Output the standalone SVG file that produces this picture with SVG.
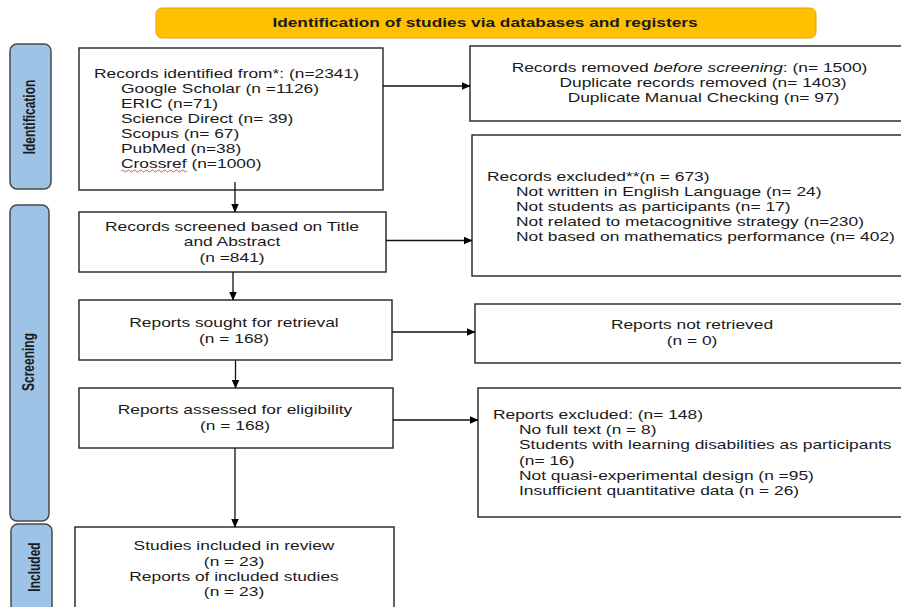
<svg xmlns="http://www.w3.org/2000/svg" width="901" height="607" viewBox="0 0 901 607">
<defs>
<marker id="arr" markerWidth="9" markerHeight="8" refX="8.5" refY="4" orient="auto" markerUnits="userSpaceOnUse">
<path d="M0,0 L9,4 L0,8 Z" fill="#000"/>
</marker>
<style>
.box{fill:#fff;stroke:#222;stroke-width:1.4}
.side{fill:#9DC3E6;stroke:#4a4a4a;stroke-width:1.5}
.t{font-family:"Liberation Sans",Arial,sans-serif;font-size:12.5px;fill:#1a1a1a}
.c{text-anchor:middle}
.b{font-weight:bold}
.ln{stroke:#111;stroke-width:1.3;fill:none}
</style>
</defs>
<rect width="901" height="607" fill="#fff"/>
<g id="banner">
<rect x="156" y="8" width="660" height="30" rx="6" fill="#FFC000" stroke="#dba500" stroke-width="1"/>
<text class="t c b" transform="translate(485,26.5) scale(1.33,1)" style="font-size:13px">Identification of studies via databases and registers</text>
</g>
<g id="side-identification">
<rect class="side" x="10" y="44" width="41" height="145" rx="7"/>
<text class="t c b" transform="translate(35,117) rotate(-90) scale(1,1.39)" style="font-size:12px">Identification</text>
</g>
<g id="side-screening">
<rect class="side" x="10" y="205" width="39" height="316" rx="7"/>
<text class="t c b" transform="translate(33.5,362) rotate(-90) scale(1,1.39)" style="font-size:12px">Screening</text>
</g>
<g id="side-included">
<rect class="side" x="11" y="524" width="41" height="95" rx="7"/>
<text class="t c b" transform="translate(39.5,567) rotate(-90) scale(1,1.39)" style="font-size:12px">Included</text>
</g>
<g id="records-identified">
<rect class="box" x="79" y="48" width="304" height="142"/>
<text class="t" transform="translate(94,78) scale(1.39,1)">Records identified from*: (n=2341)</text>
<text class="t" transform="translate(121,93) scale(1.39,1)">Google Scholar (n =1126)</text>
<text class="t" transform="translate(121,108) scale(1.39,1)">ERIC (n=71)</text>
<text class="t" transform="translate(121,123) scale(1.39,1)">Science Direct (n= 39)</text>
<text class="t" transform="translate(121,138) scale(1.39,1)">Scopus (n= 67)</text>
<text class="t" transform="translate(121,153) scale(1.39,1)">PubMed (n=38)</text>
<text class="t" transform="translate(121,168) scale(1.39,1)">Crossref (n=1000)</text>
<path d="M121,171 q1.5,-2 3,0 t3,0 t3,0 t3,0 t3,0 t3,0 t3,0 t3,0 t3,0 t3,0 t3,0 t3,0 t3,0 t3,0 t3,0 t3,0 t3,0 t3,0 t3,0 t3,0 t3,0 t3,0" fill="none" stroke="#e03030" stroke-width="0.8"/>
</g>
<g id="records-removed">
<rect class="box" x="470" y="46" width="440" height="75"/>
<text class="t c" transform="translate(689.5,71.5) scale(1.39,1)">Records removed <tspan font-style="italic">before screening</tspan>: (n= 1500)</text>
<text class="t c" transform="translate(703,86.5) scale(1.39,1)">Duplicate records removed (n= 1403)</text>
<text class="t c" transform="translate(703.5,101.5) scale(1.39,1)">Duplicate Manual Checking (n= 97)</text>
</g>
<g id="records-screened">
<rect class="box" x="79" y="212" width="307" height="60"/>
<text class="t c" transform="translate(232,230.5) scale(1.39,1)">Records screened based on Title</text>
<text class="t c" transform="translate(232,245.5) scale(1.39,1)">and Abstract</text>
<text class="t c" transform="translate(232,261.5) scale(1.39,1)">(n =841)</text>
</g>
<g id="records-excluded">
<rect class="box" x="472" y="135" width="440" height="141"/>
<text class="t" transform="translate(487,180.5) scale(1.39,1)">Records excluded**(n = 673)</text>
<text class="t" transform="translate(516,195.5) scale(1.39,1)">Not written in English Language (n= 24)</text>
<text class="t" transform="translate(516,210.5) scale(1.39,1)">Not students as participants (n= 17)</text>
<text class="t" transform="translate(516,225.5) scale(1.39,1)">Not related to metacognitive strategy (n=230)</text>
<text class="t" transform="translate(516,240.5) scale(1.39,1)">Not based on mathematics performance (n= 402)</text>
</g>
<g id="reports-sought">
<rect class="box" x="79" y="300" width="313" height="60"/>
<text class="t c" transform="translate(234,327) scale(1.39,1)">Reports sought for retrieval</text>
<text class="t c" transform="translate(234,343) scale(1.39,1)">(n = 168)</text>
</g>
<g id="reports-not-retrieved">
<rect class="box" x="475" y="304" width="440" height="59"/>
<text class="t c" transform="translate(692,328.5) scale(1.39,1)">Reports not retrieved</text>
<text class="t c" transform="translate(692,345) scale(1.39,1)">(n = 0)</text>
</g>
<g id="reports-assessed">
<rect class="box" x="79" y="388" width="314" height="60"/>
<text class="t c" transform="translate(235,414) scale(1.39,1)">Reports assessed for eligibility</text>
<text class="t c" transform="translate(235,430) scale(1.39,1)">(n = 168)</text>
</g>
<g id="reports-excluded">
<rect class="box" x="478" y="388" width="440" height="129"/>
<text class="t" transform="translate(493,419) scale(1.39,1)">Reports excluded: (n= 148)</text>
<text class="t" transform="translate(519,434) scale(1.39,1)">No full text (n = 8)</text>
<text class="t" transform="translate(519,449) scale(1.39,1)">Students with learning disabilities as participants</text>
<text class="t" transform="translate(519,464.5) scale(1.39,1)">(n= 16)</text>
<text class="t" transform="translate(519,479.5) scale(1.39,1)">Not quasi-experimental design (n =95)</text>
<text class="t" transform="translate(519,494.5) scale(1.39,1)">Insufficient quantitative data (n = 26)</text>
</g>
<g id="studies-included">
<rect class="box" x="75" y="527" width="319" height="90"/>
<text class="t c" transform="translate(234,550) scale(1.39,1)">Studies included in review</text>
<text class="t c" transform="translate(234,566) scale(1.39,1)">(n = 23)</text>
<text class="t c" transform="translate(234,581) scale(1.39,1)">Reports of included studies</text>
<text class="t c" transform="translate(234,596) scale(1.39,1)">(n = 23)</text>
</g>
<g id="connectors">
<line class="ln" x1="235" y1="182" x2="235" y2="212" marker-end="url(#arr)"/>
<line class="ln" x1="383" y1="86" x2="470" y2="86" marker-end="url(#arr)"/>
<line class="ln" x1="386" y1="240.5" x2="472" y2="240.5" marker-end="url(#arr)"/>
<line class="ln" x1="233" y1="272" x2="233" y2="300" marker-end="url(#arr)"/>
<line class="ln" x1="392" y1="332" x2="475" y2="332" marker-end="url(#arr)"/>
<line class="ln" x1="235.5" y1="360" x2="235.5" y2="388" marker-end="url(#arr)"/>
<line class="ln" x1="393" y1="420" x2="478" y2="420" marker-end="url(#arr)"/>
<line class="ln" x1="235" y1="448" x2="235" y2="527" marker-end="url(#arr)"/>
</g>
</svg>
